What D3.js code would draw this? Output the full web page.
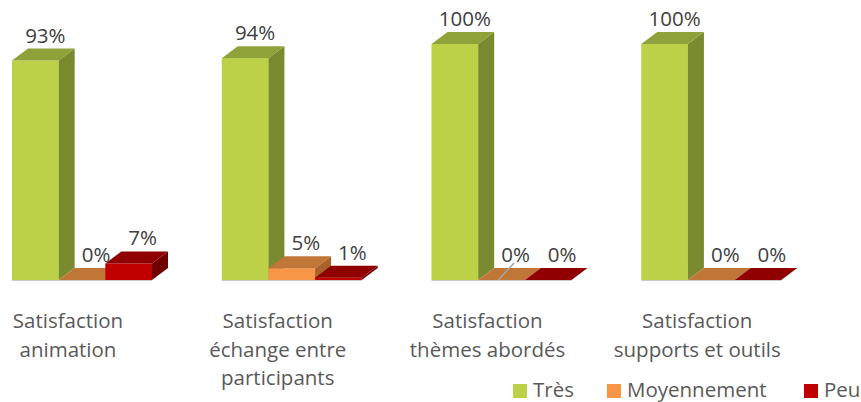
<!DOCTYPE html>
<html>
<head>
<meta charset="utf-8">
<script src="https://cdn.jsdelivr.net/npm/d3@7"></script>
<style>
  body { margin: 0; background: #fff; }
  text { font-family: "Open Sans", sans-serif; fill: #595959; }
</style>
</head>
<body>
<svg id="chart" width="861" height="402"></svg>
<script>
// données
var categories = [
  ["Satisfaction", "animation"],
  ["Satisfaction", "échange entre", "participants"],
  ["Satisfaction", "thèmes abordés"],
  ["Satisfaction", "supports et outils"]
];
var series = ["Très", "Moyennement", "Peu"];
var tres = [93, 94, 100, 100];
var moyennement = [0, 5, 0, 0];
var peu = [7, 1, 0, 0];

var values = [tres, moyennement, peu];

// couleurs : face, dessus, côté
var colors = [
  { front: "#bcd048", top: "#8fa23a", side: "#7a8a2e" },
  { front: "#f79646", top: "#c07636", side: "#a9622a" },
  { front: "#c00000", top: "#900000", side: "#700000" }
];

var svg = d3.select("#chart");
var dx = 16, dy = 12;

var y = d3.scaleLinear().domain([0, 100]).range([280, 44]);

var x0 = d3.scaleBand()
  .domain(d3.range(categories.length))
  .range([12, 851]);

var x1 = d3.scaleBand()
  .domain(series)
  .range([0, 140]);

var groups = svg.selectAll("g.grp")
  .data(categories)
  .enter().append("g")
  .attr("class", "grp")
  .attr("transform", function(d, i) { return "translate(" + x0(i) + ",0)"; });

groups.each(function(cat, ci) {
  var g = d3.select(this);
  series.forEach(function(s, si) {
    var v = values[si][ci];
    var x = x1(s), w = x1.bandwidth();
    var yt = y(v), yb = y(0);
    var c = colors[si];
    if (v > 0) {
      g.append("rect")
        .attr("x", x).attr("y", yt)
        .attr("width", w).attr("height", yb - yt)
        .attr("fill", c.front);
      g.append("path")
        .attr("d", "M" + (x + w) + "," + yt + "L" + (x + w + dx) + "," + (yt - dy) +
          "L" + (x + w + dx) + "," + (yb - dy) + "L" + (x + w) + "," + yb + "Z")
        .attr("fill", c.side);
    }
    g.append("path")
      .attr("d", "M" + x + "," + yt + "L" + (x + dx) + "," + (yt - dy) +
        "L" + (x + w + dx) + "," + (yt - dy) + "L" + (x + w) + "," + yt + "Z")
      .attr("fill", c.top);

    g.append("text")
      .attr("x", x + w / 2 + dx / 2 + (si === 0 ? 2 : 6))
      .attr("y", yt - dy - 6)
      .attr("text-anchor", "middle")
      .style("font-size", "20.5px")
      .style("fill", "#404040")
      .text(v + "%");
  });

  // ligne de base grise
  g.append("line")
    .attr("x1", 0).attr("x2", 140)
    .attr("y1", y(0) + 0.5).attr("y2", y(0) + 0.5)
    .attr("stroke", "#c8c8c8").attr("stroke-width", 1);

  // étiquette de catégorie
  var t = g.append("text")
    .attr("text-anchor", "middle")
    .style("font-size", "20.5px");
  cat.forEach(function(line, li) {
    t.append("tspan")
      .attr("x", 56)
      .attr("y", 328 + li * 28.5)
      .text(line);
  });
});

// trait de rappel (groupe 3, étiquette 0%)
svg.append("line")
  .attr("x1", x0(2) + x1("Moyennement") + 36).attr("y1", 263)
  .attr("x2", x0(2) + x1("Moyennement") + 20).attr("y2", 280)
  .attr("stroke", "#a6a6a6").attr("stroke-width", 1.5);

// légende
var legendX = [513, 607, 804];
var legend = svg.selectAll("g.leg")
  .data(series)
  .enter().append("g")
  .attr("class", "leg")
  .attr("transform", function(d, i) { return "translate(" + legendX[i] + ",384)"; });

legend.append("rect")
  .attr("width", 14).attr("height", 14)
  .attr("fill", function(d, i) { return colors[i].front; });

legend.append("text")
  .attr("x", 20).attr("y", 13)
  .style("font-size", "20.5px")
  .text(function(d) { return d; });
</script>
</body>
</html>
